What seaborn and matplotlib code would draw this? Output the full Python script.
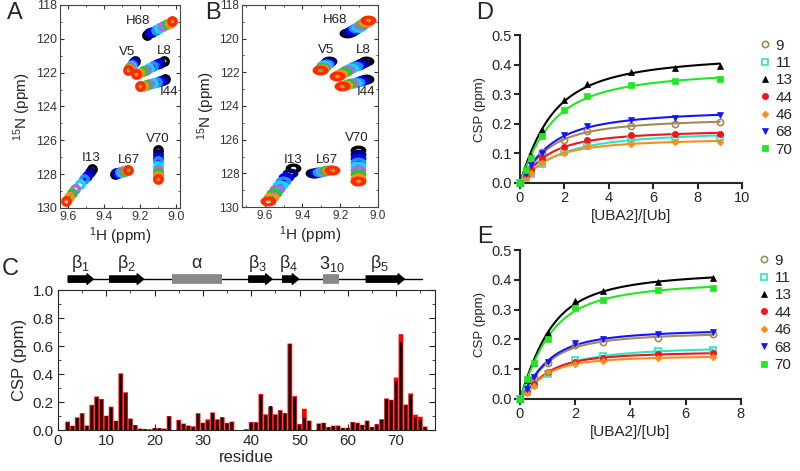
import numpy as np
import matplotlib
matplotlib.use('Agg')
import matplotlib.pyplot as plt
import matplotlib.transforms as mtransforms
import seaborn as sns
from matplotlib.path import Path
from matplotlib.lines import Line2D
from matplotlib.ticker import MultipleLocator, FormatStrFormatter

# ---------------- datos ----------------
# Paneles A y B: picos HSQC (9 pasos de titulacion, negro -> rojo)
peak_names = ['H68', 'V5', 'L8', 'I44', 'V70', 'I13', 'L67']
step_colors = ['#000000', '#00007a', '#0000ff', '#1e90ff', '#19d3f5',
               '#b266e6', '#22c832', '#ff8c1a', '#ff2a00']

a_h = [[9.162, 9.150, 9.132, 9.112, 9.092, 9.072, 9.052, 9.036, 9.022],
       [9.227, 9.232, 9.238, 9.243, 9.249, 9.254, 9.259, 9.262, 9.265],
       [9.069, 9.088, 9.108, 9.128, 9.150, 9.168, 9.186, 9.204, 9.222],
       [9.060, 9.072, 9.090, 9.108, 9.128, 9.148, 9.166, 9.183, 9.200],
       [9.100, 9.100, 9.101, 9.100, 9.099, 9.100, 9.100, 9.101, 9.100],
       [9.465, 9.478, 9.494, 9.512, 9.535, 9.558, 9.578, 9.595, 9.612],
       [9.340, 9.331, 9.321, 9.311, 9.301, 9.292, 9.283, 9.274, 9.265]]
a_n = [[119.78, 119.68, 119.57, 119.46, 119.36, 119.25, 119.14, 119.04, 118.93],
       [121.30, 121.38, 121.45, 121.53, 121.60, 121.67, 121.74, 121.80, 121.85],
       [121.30, 121.40, 121.50, 121.61, 121.72, 121.83, 121.93, 122.02, 122.10],
       [122.40, 122.46, 122.51, 122.57, 122.63, 122.68, 122.73, 122.77, 122.80],
       [126.60, 126.80, 127.02, 127.25, 127.50, 127.73, 127.95, 128.13, 128.28],
       [127.68, 127.88, 128.08, 128.30, 128.58, 128.85, 129.10, 129.35, 129.56],
       [127.98, 127.95, 127.92, 127.89, 127.86, 127.83, 127.80, 127.77, 127.74]]

b_h = [[9.164, 9.150, 9.134, 9.118, 9.103, 9.089, 9.076, 9.064, 9.053],
       [9.259, 9.265, 9.271, 9.277, 9.284, 9.290, 9.296, 9.302, 9.307],
       [9.064, 9.085, 9.105, 9.124, 9.143, 9.162, 9.181, 9.199, 9.217],
       [9.064, 9.080, 9.097, 9.113, 9.129, 9.145, 9.160, 9.175, 9.190],
       [9.106, 9.106, 9.107, 9.106, 9.105, 9.106, 9.106, 9.107, 9.106],
       [9.450, 9.468, 9.486, 9.503, 9.520, 9.536, 9.552, 9.568, 9.582],
       [9.344, 9.331, 9.318, 9.306, 9.293, 9.281, 9.268, 9.256, 9.244]]
b_n = [[119.68, 119.59, 119.49, 119.39, 119.29, 119.19, 119.09, 118.99, 118.90],
       [121.30, 121.38, 121.45, 121.52, 121.59, 121.66, 121.73, 121.79, 121.85],
       [121.30, 121.42, 121.54, 121.65, 121.76, 121.87, 121.98, 122.09, 122.20],
       [122.40, 122.46, 122.51, 122.56, 122.61, 122.66, 122.71, 122.76, 122.80],
       [126.60, 126.86, 127.10, 127.34, 127.57, 127.80, 128.02, 128.25, 128.47],
       [127.70, 127.97, 128.22, 128.46, 128.70, 128.94, 129.18, 129.42, 129.66],
       [127.98, 127.96, 127.93, 127.90, 127.88, 127.85, 127.82, 127.80, 127.78]]

# posiciones de las etiquetas de los picos (ppm)
a_lab_h = [9.209, 9.274, 9.065, 9.037, 9.100, 9.470, 9.260]
a_lab_n = [118.93, 120.77, 120.70, 123.15, 125.90, 127.03, 127.15]
b_lab_h = [9.228, 9.275, 9.080, 9.064, 9.110, 9.450, 9.270]
b_lab_n = [118.90, 120.70, 120.70, 123.15, 125.90, 127.20, 127.20]

# Panel C: CSP por residuo (rojo = barra de fondo, negro = barra delantera)
residues = list(range(1, 77))
csp_red = [0.000, 0.060, 0.030, 0.090, 0.120, 0.032, 0.180, 0.240, 0.222, 0.102,
           0.167, 0.066, 0.405, 0.270, 0.082, 0.036, 0.010, 0.008, 0.004, 0.014,
           0.014, 0.010, 0.100, 0.000, 0.072, 0.046, 0.032, 0.026, 0.120, 0.052,
           0.076, 0.126, 0.076, 0.092, 0.050, 0.060, 0.000, 0.000, 0.005, 0.057,
           0.056, 0.258, 0.112, 0.167, 0.112, 0.142, 0.121, 0.618, 0.242, 0.042,
           0.152, 0.067, 0.000, 0.047, 0.052, 0.022, 0.031, 0.032, 0.016, 0.016,
           0.057, 0.052, 0.037, 0.067, 0.022, 0.042, 0.077, 0.226, 0.216, 0.375,
           0.685, 0.182, 0.262, 0.110, 0.095, 0.025]
csp_black = [0.000, 0.055, 0.027, 0.086, 0.116, 0.028, 0.170, 0.232, 0.215, 0.098,
             0.160, 0.062, 0.398, 0.262, 0.077, 0.032, 0.008, 0.006, 0.003, 0.012,
             0.012, 0.008, 0.095, 0.000, 0.068, 0.042, 0.028, 0.022, 0.115, 0.048,
             0.066, 0.120, 0.072, 0.088, 0.046, 0.056, 0.000, 0.000, 0.004, 0.052,
             0.052, 0.250, 0.107, 0.172, 0.108, 0.137, 0.117, 0.612, 0.236, 0.038,
             0.090, 0.063, 0.000, 0.043, 0.048, 0.019, 0.028, 0.029, 0.014, 0.014,
             0.053, 0.048, 0.033, 0.062, 0.019, 0.038, 0.072, 0.220, 0.210, 0.350,
             0.630, 0.176, 0.250, 0.090, 0.075, 0.020]

# estructura secundaria (residuo inicio, fin)
sheet_ranges = [(2.1, 7.3), (10.7, 17.7), (39.5, 44.3), (46.5, 49.8), (63.8, 71.7)]
sheet_labels = [r'$\beta_1$', r'$\beta_2$', r'$\beta_3$', r'$\beta_4$', r'$\beta_5$']
sheet_label_x = [4.6, 14.2, 41.3, 47.7, 66.5]
helix_ranges = [(23.5, 34.0), (54.8, 58.1)]
helix_labels = ['α', r'$3_{10}$']
helix_label_x = [28.6, 56.6]

# Paneles D y E: titulaciones
series_names = ['9', '11', '13', '44', '46', '68', '70']
series_colors = ['#a08c5a', '#2ee6c0', '#000000', '#f0141e', '#ff8c1a', '#1414ff', '#22e622']
series_markers = ['o', 's', '^', 'o', 'D', 'v', 's']
series_filled = [False, False, True, True, True, True, True]

d_ratio = [0, 0.25, 0.5, 1, 2, 3, 5, 7, 9]
d_csp = [[0, 0.025, 0.050, 0.105, 0.147, 0.175, 0.192, 0.200, 0.207],
         [0, 0.016, 0.032, 0.065, 0.105, 0.126, 0.150, 0.155, 0.156],
         [0, 0.046, 0.090, 0.180, 0.282, 0.336, 0.376, 0.390, 0.395],
         [0, 0.022, 0.045, 0.083, 0.122, 0.144, 0.161, 0.164, 0.167],
         [0, 0.017, 0.035, 0.068, 0.100, 0.124, 0.133, 0.137, 0.140],
         [0, 0.030, 0.060, 0.100, 0.161, 0.194, 0.214, 0.220, 0.229],
         [0, 0.043, 0.086, 0.159, 0.246, 0.295, 0.330, 0.345, 0.351]]

e_ratio = [0, 0.25, 0.5, 1, 2, 3, 5, 7]
e_csp = [[0, 0.030, 0.070, 0.120, 0.181, 0.192, 0.204, 0.218],
         [0, 0.025, 0.047, 0.083, 0.131, 0.145, 0.161, 0.164],
         [0, 0.065, 0.120, 0.220, 0.330, 0.362, 0.394, 0.405],
         [0, 0.025, 0.050, 0.092, 0.125, 0.139, 0.150, 0.153],
         [0, 0.020, 0.045, 0.090, 0.117, 0.128, 0.139, 0.141],
         [0, 0.035, 0.075, 0.125, 0.187, 0.200, 0.218, 0.224],
         [0, 0.067, 0.120, 0.200, 0.304, 0.332, 0.366, 0.374]]


# ---------------- funciones ----------------
def ring_marker(aspect=1.0, hole=0.35):
    # anillo relleno (contorno de pico)
    t = np.linspace(0, 2 * np.pi, 60)
    outer = np.column_stack([aspect * np.cos(t), np.sin(t)])
    inner = np.column_stack([aspect * hole * np.cos(t[::-1]), hole * np.sin(t[::-1])])
    verts = np.vstack([outer, inner])
    codes = ([Path.MOVETO] + [Path.LINETO] * 59 + [Path.MOVETO] + [Path.LINETO] * 59)
    return Path(verts, codes)


def fit_binding(x, y):
    # modelo 1:1 con agotamiento de ligando, Kd por busqueda en rejilla
    x = np.asarray(x, float)
    y = np.asarray(y, float)
    best = None
    for kd in np.logspace(-3, 1, 500):
        b = 1 + x + kd
        f = (b - np.sqrt(b ** 2 - 4 * x)) / 2
        dmax = (f @ y) / (f @ f)
        err = np.sum((y - dmax * f) ** 2)
        if best is None or err < best[0]:
            best = (err, kd, dmax)
    xs = np.linspace(0, x.max(), 300)
    b = 1 + xs + best[1]
    return xs, best[2] * (b - np.sqrt(b ** 2 - 4 * xs)) / 2


def nmr_panel(ax, hs, ns, lab_h, lab_n, xlim, marker, size, fs):
    hs = np.array(hs)
    ns = np.array(ns)
    for i, c in enumerate(step_colors):
        sns.scatterplot(x=hs[:, i], y=ns[:, i], marker=marker, s=size,
                        color=c, linewidth=0, ax=ax, legend=False, zorder=3 + i)
    for name, x, y in zip(peak_names, lab_h, lab_n):
        ax.text(x, y, name, ha='center', va='center', fontsize=9.5, color='#222222',
                zorder=20)
    ax.set_xlim(*xlim)
    ax.set_ylim(130, 118)
    ax.xaxis.set_major_locator(MultipleLocator(0.2))
    ax.xaxis.set_minor_locator(MultipleLocator(0.1))
    ax.yaxis.set_major_locator(MultipleLocator(2))
    ax.yaxis.set_minor_locator(MultipleLocator(1))
    ax.xaxis.set_major_formatter(FormatStrFormatter('%.1f'))
    ax.tick_params(which='both', direction='in', top=True, right=True,
                   labelsize=fs, colors='#333333', pad=2)
    ax.tick_params(which='major', length=3)
    ax.tick_params(which='minor', length=1.5)
    for s in ax.spines.values():
        s.set_linewidth(0.8)
        s.set_color('#444444')
    ax.set_xlabel(r'$^1$H (ppm)', fontsize=11, labelpad=2)
    ax.set_ylabel(r'$^{15}$N (ppm)', fontsize=11, labelpad=2)


def titration_panel(ax, ratio, csp, xmax):
    for name, c, m, filled, y in zip(series_names, series_colors, series_markers,
                                     series_filled, csp):
        xs, ys = fit_binding(ratio, y)
        sns.lineplot(x=xs, y=ys, color=c, linewidth=1.5, ax=ax, zorder=2)
        ax.plot(ratio, y, ls='', marker=m, ms=4.5 if m != 'D' else 3.5,
                mfc=c if filled else 'none', mec=c, mew=1.2 if not filled else 0.5,
                zorder=3, clip_on=False)
    ax.set_xlim(0, xmax)
    ax.set_ylim(0, 0.5)
    ax.xaxis.set_major_locator(MultipleLocator(2))
    ax.yaxis.set_major_locator(MultipleLocator(0.1))
    ax.yaxis.set_major_formatter(FormatStrFormatter('%.1f'))
    sns.despine(ax=ax)
    for s in ['left', 'bottom']:
        ax.spines[s].set_linewidth(1.5)
    ax.tick_params(direction='out', length=4, width=1.5, labelsize=10.5, pad=2)
    ax.set_xlabel('[UBA2]/[Ub]', fontsize=11, labelpad=3)
    ax.set_ylabel('CSP (ppm)', fontsize=9.5, labelpad=4)
    handles = [Line2D([], [], ls='', marker=m, ms=4.5 if m != 'D' else 3.5, color=c,
                      mfc=c if f else 'none', mew=1.2 if not f else 0.5)
               for c, m, f in zip(series_colors, series_markers, series_filled)]
    ax.legend(handles, series_names, loc='upper left', bbox_to_anchor=(1.083, 0.976),
              frameon=False, fontsize=11, handlelength=0.6, handletextpad=0.4,
              labelspacing=0.22, borderaxespad=0, borderpad=0)


# ---------------- figura ----------------
sns.set_style('ticks')
plt.rcParams['font.family'] = ['Liberation Sans', 'DejaVu Sans']
plt.rcParams['mathtext.default'] = 'regular'

fig = plt.figure(figsize=(8, 4.71), dpi=100)

ax_a = fig.add_axes([0.075, 0.5584, 0.15, 0.431])
ax_b = fig.add_axes([0.3025, 0.5605, 0.17, 0.4289])
ax_c = fig.add_axes([0.0725, 0.087, 0.471, 0.297])
ax_d = fig.add_axes([0.65, 0.6115, 0.2775, 0.314])
ax_e = fig.add_axes([0.65, 0.1529, 0.276, 0.316])

nmr_panel(ax_a, a_h, a_n, a_lab_h, a_lab_n, (9.644, 8.978), ring_marker(1.0), 60, 9)
nmr_panel(ax_b, b_h, b_n, b_lab_h, b_lab_n, (9.72, 9.0), ring_marker(1.6), 130, 8.5)

# Panel C: barras
sns.barplot(x=residues, y=csp_red, native_scale=True, width=0.98, color='#ff0000',
            saturation=1, linewidth=0, errorbar=None, ax=ax_c)
sns.barplot(x=residues, y=csp_black, native_scale=True, width=0.52, color='#000000',
            saturation=1, linewidth=0, errorbar=None, ax=ax_c)
for p in ax_c.patches:
    p.set_snap(False)
ax_c.set_xlim(0, 78)
ax_c.set_ylim(0, 1.0)
ax_c.xaxis.set_major_locator(MultipleLocator(10))
ax_c.xaxis.set_minor_locator(MultipleLocator(5))
ax_c.yaxis.set_major_locator(MultipleLocator(0.2))
ax_c.yaxis.set_minor_locator(MultipleLocator(0.1))
ax_c.yaxis.set_major_formatter(FormatStrFormatter('%.1f'))
ax_c.tick_params(which='both', direction='in', top=True, right=True, labelsize=11, pad=3)
ax_c.tick_params(which='major', length=4)
ax_c.tick_params(which='minor', length=2)
for s in ax_c.spines.values():
    s.set_linewidth(0.8)
ax_c.set_xlabel('residue', fontsize=12, labelpad=1)
ax_c.set_ylabel('CSP (ppm)', fontsize=12, labelpad=4)

# estructura secundaria sobre el panel C
trans = mtransforms.blended_transform_factory(ax_c.transData, ax_c.transAxes)
y_ss = 1.079
ax_c.plot([2.1, 75.4], [y_ss, y_ss], color='k', lw=1, transform=trans, clip_on=False)
for (x0, x1), lab, lx in zip(sheet_ranges, sheet_labels, sheet_label_x):
    ax_c.annotate('', xy=(x1, y_ss), xytext=(x0, y_ss), xycoords=trans, textcoords=trans,
                  arrowprops=dict(arrowstyle='simple,head_length=0.45,head_width=0.75,tail_width=0.45',
                                  fc='k', ec='k', shrinkA=0, shrinkB=0, mutation_scale=10))
    ax_c.text(lx, 1.19, lab, transform=trans, ha='center', va='center', fontsize=13)
for (x0, x1), lab, lx in zip(helix_ranges, helix_labels, helix_label_x):
    ax_c.plot([x0, x1], [y_ss, y_ss], color='#888888', lw=7, solid_capstyle='butt',
              transform=trans, clip_on=False)
    ax_c.text(lx, 1.19, lab, transform=trans, ha='center', va='center', fontsize=13)

titration_panel(ax_d, d_ratio, d_csp, 10)
titration_panel(ax_e, e_ratio, e_csp, 8)

for lab, x, y in [('A', 0.019, 0.972), ('B', 0.266, 0.972), ('C', 0.013, 0.428),
                  ('D', 0.606, 0.972), ('E', 0.606, 0.496)]:
    fig.text(x, y, lab, fontsize=17, ha='center', va='center')

fig.savefig('out.png', dpi=100)
